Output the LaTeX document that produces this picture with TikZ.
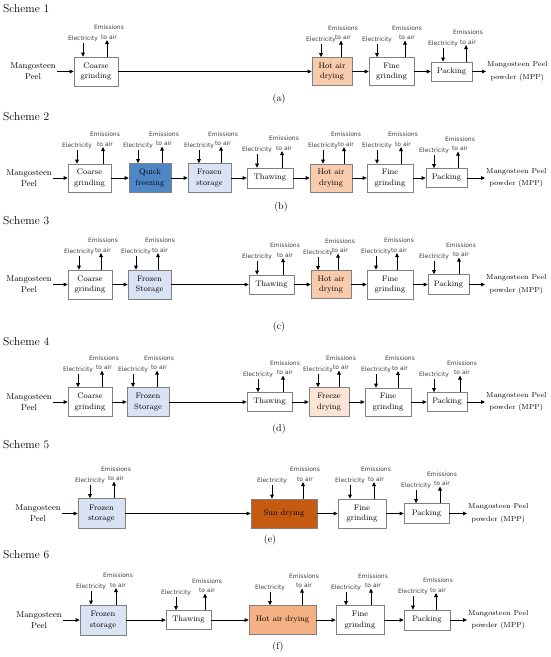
\documentclass[tikz,border=0pt]{standalone}
\usepackage{fontspec}
\newfontfamily\labelsans{DejaVu Sans}
\usetikzlibrary{arrows.meta}

\definecolor{quickblue}{RGB}{79,134,198}
\definecolor{frozenblue}{RGB}{218,227,243}
\definecolor{hotair}{RGB}{248,203,173}
\definecolor{hotairdeep}{RGB}{244,177,131}
\definecolor{freezepeach}{RGB}{251,229,214}
\definecolor{sunorange}{RGB}{197,90,17}

\tikzset{
  procbox/.style={draw=black!50, line width=0.7pt, inner sep=0pt, align=center,
    font=\fontsize{8}{10.5}\selectfont},
  elecnode/.style={inner sep=1pt, text=black!75, font=\labelsans\fontsize{6}{9.5}\selectfont},
  emisnode/.style={anchor=south, inner sep=0.5pt, align=center, text=black!75,
    font=\labelsans\fontsize{6}{9.5}\selectfont},
  flow/.style={line width=0.8pt, -{Triangle[length=4pt,width=3.6pt]}},
  feednode/.style={anchor=east, inner sep=1pt, align=center, font=\fontsize{8.5}{11}\selectfont},
  prodnode/.style={anchor=west, inner sep=1pt, align=center, font=\fontsize{7.2}{12.5}\selectfont},
  schemelabel/.style={anchor=west, inner sep=2pt, font=\fontsize{11.5}{13}\selectfont},
  sublabel/.style={inner sep=0pt, font=\fontsize{10}{12}\selectfont}
}

% #1 name, #2 left x, #3 right x, #4 centre y, #5 height, #6 fill, #7 text, #8 electricity x, #9 emissions x
\newcommand{\procstep}[9]{%
  \node[procbox, fill=#6, minimum width={(#3-#2)*1pt}, minimum height={#5*1pt}] (#1) at ({(#2+#3)/2},#4) {#7};
  \node[elecnode] (#1e) at (#8,{#4-#5/2-18}) {Electricity};
  \draw[flow] (#1e) -- (#1e |- #1.north);
  \coordinate (#1m) at (#9,{#4-#5/2-17});
  \node[emisnode] (#1t) at ([xshift=2pt]#1m) {Emissions\\to air};
  \draw[flow] (#1m |- #1.north) -- (#1m);
}

\begin{document}
\begin{tikzpicture}[x=1pt,y=-1pt]
  \useasboundingbox (0,0) rectangle (550,657);

  % Scheme 1
  \node[schemelabel] (sch1) at (1,8.5) {Scheme 1};
  \node[feednode] (in1) at (57,71.5) {Mangosteen\\Peel};
  \procstep{c1}{74}{118}{71.5}{29}{white}{Coarse\\grinding}{83}{107}
  \procstep{h1}{312}{352}{71.5}{28}{hotair}{Hot air\\drying}{321}{341}
  \procstep{f1}{369}{414}{71.5}{28}{white}{Fine\\grinding}{377}{405}
  \procstep{p1}{431}{472}{71.5}{19}{white}{Packing}{443}{466}
  \node[prodnode] (out1) at (486,71.5) {Mangosteen Peel\\powder (MPP)};
  \draw[flow] (in1) -- (c1);
  \draw[flow] (c1) -- (h1);
  \draw[flow] (h1) -- (f1);
  \draw[flow] (f1) -- (p1);
  \draw[flow] (p1) -- (out1);
  \node[sublabel] (lab1) at (279,99) {(a)};

  % Scheme 2
  \node[schemelabel] (sch2) at (1,117) {Scheme 2};
  \node[feednode] (in2) at (53,178) {Mangosteen\\Peel};
  \procstep{c2}{68}{111}{178}{28}{white}{Coarse\\grinding}{77}{103}
  \procstep{q2}{129}{171}{178}{29}{quickblue}{Quick\\freezing}{138}{162}
  \procstep{s2}{188}{231}{178}{29}{frozenblue}{Frozen\\storage}{199}{221}
  \procstep{t2}{247}{293}{178}{20}{white}{Thawing}{257}{282}
  \procstep{h2}{310}{352}{178}{28}{hotair}{Hot air\\drying}{323}{344}
  \procstep{f2}{367}{413}{178}{28}{white}{Fine\\grinding}{377}{401}
  \procstep{p2}{426}{467}{178}{19}{white}{Packing}{434}{458}
  \node[prodnode] (out2) at (485,178) {Mangosteen Peel\\powder (MPP)};
  \draw[flow] (in2) -- (c2);
  \draw[flow] (c2) -- (q2);
  \draw[flow] (q2) -- (s2);
  \draw[flow] (s2) -- (t2);
  \draw[flow] (t2) -- (h2);
  \draw[flow] (h2) -- (f2);
  \draw[flow] (f2) -- (p2);
  \draw[flow] (p2) -- (out2);
  \node[sublabel] (lab2) at (281,207) {(b)};

  % Scheme 3
  \node[schemelabel] (sch3) at (1,221) {Scheme 3};
  \node[feednode] (in3) at (53,284.5) {Mangosteen\\Peel};
  \procstep{c3}{68}{112}{284.5}{29}{white}{Coarse\\grinding}{79}{101}
  \procstep{s3}{128}{171}{284.5}{29}{frozenblue}{Frozen\\Storage}{136}{158}
  \procstep{t3}{249}{294}{284.5}{19}{white}{Thawing}{257}{283}
  \procstep{h3}{311}{351}{284.5}{28}{hotair}{Hot air\\drying}{318}{338}
  \procstep{f3}{367}{413}{284.5}{29}{white}{Fine\\grinding}{376}{397}
  \procstep{p3}{428}{469}{284.5}{20}{white}{Packing}{434}{459}
  \node[prodnode] (out3) at (485,284.5) {Mangosteen Peel\\powder (MPP)};
  \draw[flow] (in3) -- (c3);
  \draw[flow] (c3) -- (s3);
  \draw[flow] (s3) -- (t3);
  \draw[flow] (t3) -- (h3);
  \draw[flow] (h3) -- (f3);
  \draw[flow] (f3) -- (p3);
  \draw[flow] (p3) -- (out3);
  \node[sublabel] (lab3) at (279,327) {(c)};

  % Scheme 4
  \node[schemelabel] (sch4) at (1,342) {Scheme 4};
  \node[feednode] (in4) at (53,402) {Mangosteen\\Peel};
  \procstep{c4}{68}{112}{402}{29}{white}{Coarse\\grinding}{78}{102}
  \procstep{s4}{127}{169}{402}{29}{frozenblue}{Frozen\\Storage}{133}{157}
  \procstep{t4}{247}{292}{402}{19}{white}{Thawing}{258}{283}
  \procstep{z4}{309}{349}{402}{29}{freezepeach}{Freeze\\drying}{318}{339}
  \procstep{f4}{365}{411}{402}{28}{white}{Fine\\grinding}{376}{398}
  \procstep{p4}{427}{467}{402}{19}{white}{Packing}{434}{460}
  \node[prodnode] (out4) at (485,402) {Mangosteen Peel\\powder (MPP)};
  \draw[flow] (in4) -- (c4);
  \draw[flow] (c4) -- (s4);
  \draw[flow] (s4) -- (t4);
  \draw[flow] (t4) -- (z4);
  \draw[flow] (z4) -- (f4);
  \draw[flow] (f4) -- (p4);
  \draw[flow] (p4) -- (out4);
  \node[sublabel] (lab4) at (279,429) {(d)};

  % Scheme 5
  \node[schemelabel] (sch5) at (1,445) {Scheme 5};
  \node[feednode] (in5) at (62,513.5) {Mangosteen\\Peel};
  \procstep{s5}{78}{125}{513.5}{30}{frozenblue}{Frozen\\storage}{90}{114}
  \procstep{u5}{251}{317}{513.5}{29}{sunorange}{Sun drying}{272}{303}
  \procstep{f5}{338}{386}{513.5}{29}{white}{Fine\\grinding}{350}{374}
  \procstep{p5}{404}{449}{513.5}{20}{white}{Packing}{416}{440}
  \node[prodnode] (out5) at (467,513.5) {Mangosteen Peel\\powder (MPP)};
  \draw[flow] (in5) -- (s5);
  \draw[flow] (s5) -- (u5);
  \draw[flow] (u5) -- (f5);
  \draw[flow] (f5) -- (p5);
  \draw[flow] (p5) -- (out5);
  \node[sublabel] (lab5) at (270,540) {(e)};

  % Scheme 6
  \node[schemelabel] (sch6) at (1,555) {Scheme 6};
  \node[feednode] (in6) at (63,620) {Mangosteen\\Peel};
  \procstep{s6}{80}{126}{620}{30}{frozenblue}{Frozen\\storage}{91}{116}
  \procstep{t6}{166}{211}{620}{19}{white}{Thawing}{176}{205}
  \procstep{h6}{249}{316}{620}{29}{hotairdeep}{Hot air drying}{270}{302}
  \procstep{f6}{336}{384}{620}{29}{white}{Fine\\grinding}{346}{371}
  \procstep{p6}{404}{450}{620}{20}{white}{Packing}{413}{436}
  \node[prodnode] (out6) at (467,620) {Mangosteen Peel\\powder (MPP)};
  \draw[flow] (in6) -- (s6);
  \draw[flow] (s6) -- (t6);
  \draw[flow] (t6) -- (h6);
  \draw[flow] (h6) -- (f6);
  \draw[flow] (f6) -- (p6);
  \draw[flow] (p6) -- (out6);
  \node[sublabel] (lab6) at (278,647) {(f)};

\end{tikzpicture}
\end{document}
